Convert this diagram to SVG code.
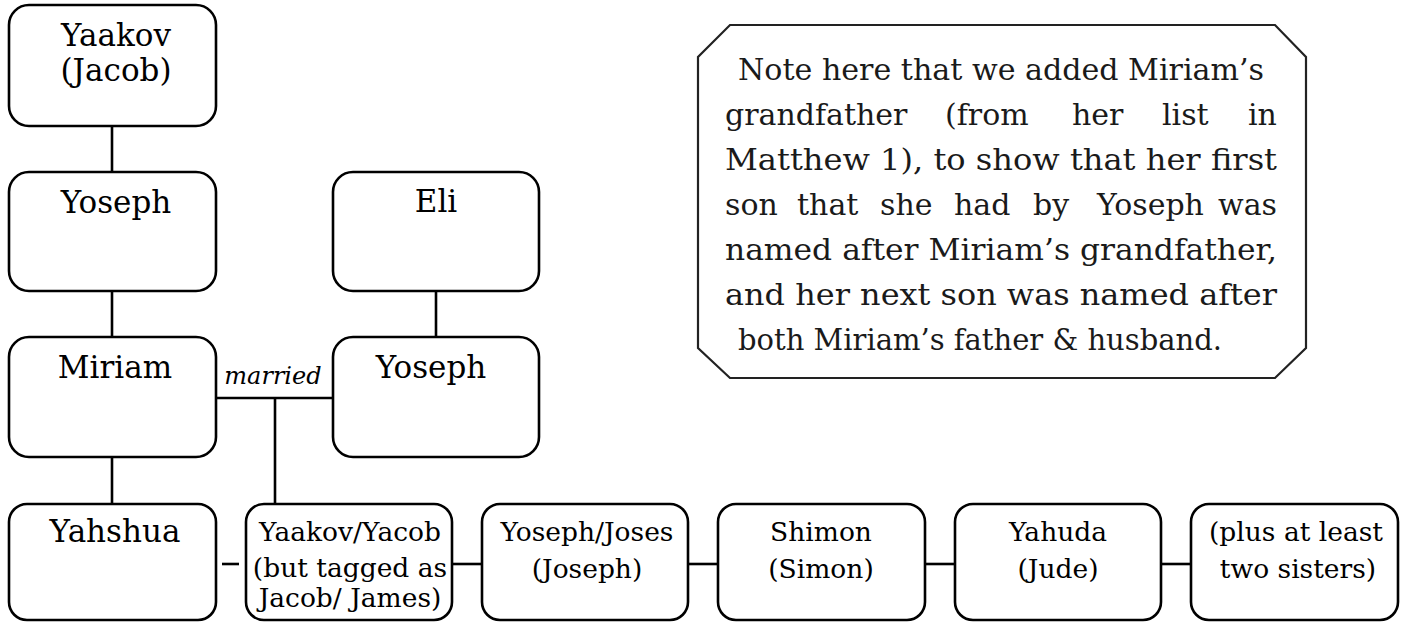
<svg xmlns="http://www.w3.org/2000/svg" width="1406" height="623" viewBox="0 0 1406 623">
<style>
.box{fill:#fff;stroke:#000;stroke-width:2.6}
.t{font-family:"DejaVu Serif","Liberation Serif",serif;font-size:31px;fill:#000;text-anchor:middle}
.s{font-family:"DejaVu Serif","Liberation Serif",serif;font-size:26.5px;fill:#000;text-anchor:middle}
.n{font-family:"DejaVu Serif","Liberation Serif",serif;font-size:30px;fill:#1a1a1a}
.c{stroke:#000;stroke-width:2.6;fill:none}
</style>
<rect width="1406" height="623" fill="#fff"/>
<g id="connectors">
<line class="c" x1="112" y1="126" x2="112" y2="172"/>
<line class="c" x1="112" y1="291" x2="112" y2="337"/>
<line class="c" x1="436" y1="291" x2="436" y2="337"/>
<line class="c" x1="112" y1="457" x2="112" y2="504"/>
<line class="c" x1="216" y1="398" x2="333" y2="398" stroke-width="3.4"/>
<line class="c" x1="275" y1="398" x2="275" y2="504"/>
<line class="c" x1="222" y1="564" x2="239" y2="564"/>
<line class="c" x1="452" y1="564" x2="482" y2="564"/>
<line class="c" x1="688" y1="564" x2="718" y2="564"/>
<line class="c" x1="925" y1="564" x2="955" y2="564"/>
<line class="c" x1="1161" y1="564" x2="1191" y2="564"/>
<text x="273" y="384" font-family="DejaVu Serif, Liberation Serif, serif" font-style="italic" font-size="24" text-anchor="middle" fill="#000">married</text>
</g>
<g id="yaakov">
<rect class="box" x="9" y="5" width="207" height="121" rx="20"/>
<text class="t" x="116" y="46">Yaakov</text>
<text class="t" x="116" y="81">(Jacob)</text>
</g>
<g id="yoseph-left">
<rect class="box" x="9" y="172" width="207" height="119" rx="20"/>
<text class="t" x="116" y="213">Yoseph</text>
</g>
<g id="eli">
<rect class="box" x="333" y="172" width="206" height="119" rx="20"/>
<text class="t" x="436" y="212">Eli</text>
</g>
<g id="miriam">
<rect class="box" x="9" y="337" width="207" height="120" rx="20"/>
<text class="t" x="115" y="378">Miriam</text>
</g>
<g id="yoseph-right">
<rect class="box" x="333" y="337" width="206" height="120" rx="20"/>
<text class="t" x="431" y="378">Yoseph</text>
</g>
<g id="yahshua">
<rect class="box" x="9" y="504" width="207" height="116" rx="18"/>
<text class="t" x="115" y="542" font-size="28.5">Yahshua</text>
</g>
<g id="yaakov-yacob">
<rect class="box" x="246" y="504" width="206" height="116" rx="18"/>
<text class="s" x="350" y="541">Yaakov/Yacob</text>
<text class="s" x="350" y="577">(but tagged as</text>
<text class="s" x="350" y="607">Jacob/ James)</text>
</g>
<g id="yoseph-joses">
<rect class="box" x="482" y="504" width="206" height="116" rx="18"/>
<text class="s" x="587" y="541">Yoseph/Joses</text>
<text class="s" x="587" y="578">(Joseph)</text>
</g>
<g id="shimon">
<rect class="box" x="718" y="504" width="207" height="116" rx="18"/>
<text class="s" x="821" y="541">Shimon</text>
<text class="s" x="821" y="578">(Simon)</text>
</g>
<g id="yahuda">
<rect class="box" x="955" y="504" width="206" height="116" rx="18"/>
<text class="s" x="1058" y="541">Yahuda</text>
<text class="s" x="1058" y="578">(Jude)</text>
</g>
<g id="sisters">
<rect class="box" x="1191" y="504" width="207" height="116" rx="18"/>
<text class="s" x="1296" y="541">(plus at least</text>
<text class="s" x="1298" y="578">two sisters)</text>
</g>
<g id="note">
<polygon points="730,25 1275,25 1306,57 1306,348 1275,378 730,378 698,348 698,57" fill="#fff" stroke="#222" stroke-width="2.2"/>
<text class="n" x="738" y="80" textLength="526" lengthAdjust="spacingAndGlyphs">Note here that we added Miriam’s</text>
<text class="n" y="125"><tspan x="725">grandfather</tspan> <tspan x="945">(from</tspan> <tspan x="1072">her</tspan> <tspan x="1162">list</tspan> <tspan x="1248">in</tspan></text>
<text class="n" x="725" y="170" textLength="552" lengthAdjust="spacingAndGlyphs">Matthew 1), to show that her first</text>
<text class="n" y="215"><tspan x="725">son</tspan> <tspan x="797">that</tspan> <tspan x="880">she</tspan> <tspan x="954">had</tspan> <tspan x="1033">by</tspan> <tspan x="1097">Yoseph</tspan> <tspan x="1218">was</tspan></text>
<text class="n" x="725" y="260" textLength="552" lengthAdjust="spacingAndGlyphs">named after Miriam’s grandfather,</text>
<text class="n" x="725" y="305" textLength="552" lengthAdjust="spacingAndGlyphs">and her next son was named after</text>
<text class="n" x="738" y="350" textLength="484" lengthAdjust="spacingAndGlyphs">both Miriam’s father &amp; husband.</text>
</g>
</svg>
